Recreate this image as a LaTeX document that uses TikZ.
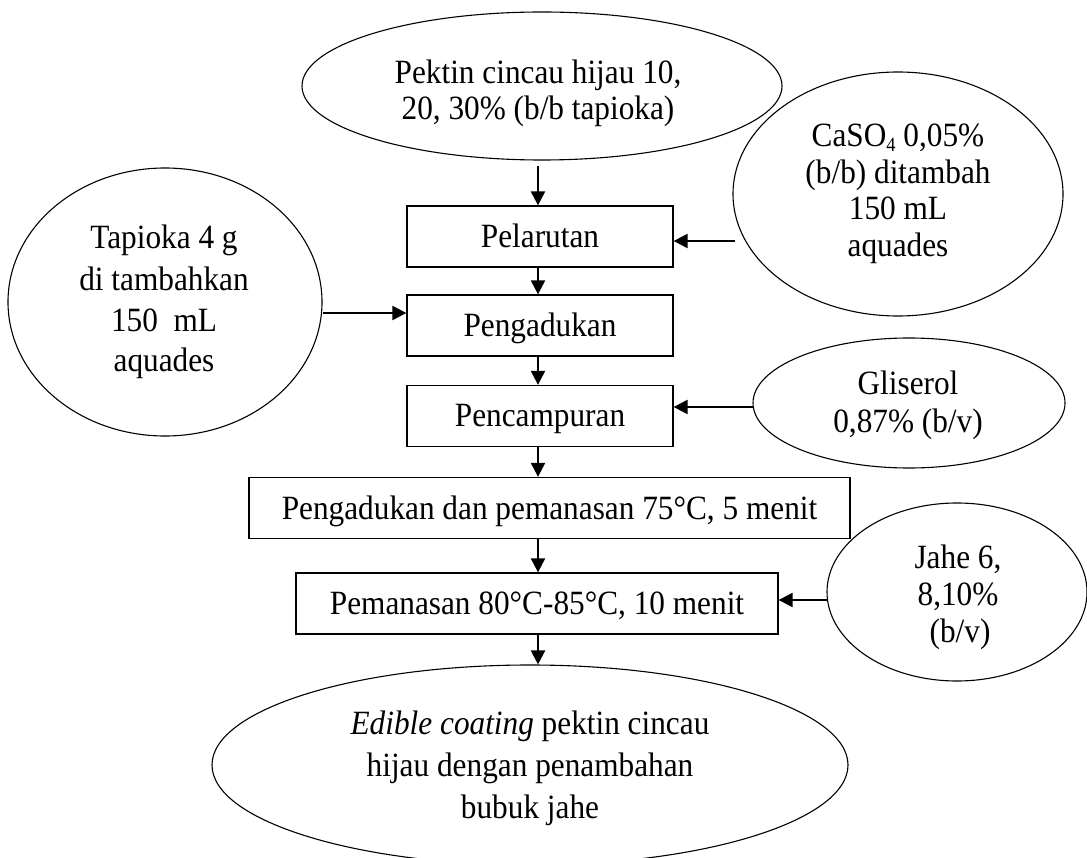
\documentclass[tikz,border=0pt]{standalone}
\usepackage{fontspec}
\setmainfont{Liberation Serif}[FakeStretch=0.92]
\usetikzlibrary{shapes.geometric,arrows.meta}
\newcommand{\lowfour}{\raisebox{-5pt}{\fontsize{20}{20}\selectfont 4}}
\begin{document}
\begin{tikzpicture}[x=1pt,y=-1pt,
  txt/.style={font=\fontsize{34}{38}\selectfont, inner sep=0pt, anchor=base},
  stepbox/.style={draw, line width=1.3pt, inner sep=0pt, minimum height=61pt,
    text height=23pt, text depth=1pt, font=\fontsize{34}{38}\selectfont},
  oval/.style={draw, ellipse, line width=1.1pt, inner sep=0pt},
  arr/.style={line width=2.2pt, -{Triangle[length=14pt,width=14pt]}}
]
\useasboundingbox (0,0) rectangle (1087,858);
\clip (0,0) rectangle (1087,858);

% process steps
\node[stepbox, minimum width=266pt] (pel)  at (540,236.5) {Pelarutan};
\node[stepbox, minimum width=266pt] (adu)  at (540,325.5) {Pengadukan};
\node[stepbox, minimum width=266pt] (camp) at (540,416)   {Pencampuran};
\node[stepbox, minimum width=601pt] (aduPanas) at (549.5,508) {Pengadukan dan pemanasan 75°C, 5 menit};
\node[stepbox, minimum width=482pt] (panas) at (537,603.5) {Pemanasan 80°C-85°C, 10 menit};

% ingredient ovals
\node[oval, minimum width=480pt, minimum height=148pt] (pektin) at (542,86) {};
\node[txt] (pektinA) at (538,84)  {Pektin cincau hijau 10,};
\node[txt] (pektinB) at (538,120) {20, 30\% (b/b tapioka)};

\node[oval, minimum width=330pt, minimum height=244pt] (cas) at (898,194) {};
\node[txt] (casA) at (898,147) {CaSO\lowfour\ 0,05\%};
\node[txt] (casB) at (898,184) {(b/b) ditambah};
\node[txt] (casC) at (898,220) {150 mL};
\node[txt] (casD) at (898,257) {aquades};

\node[oval, minimum width=314pt, minimum height=268pt] (tap) at (165,302) {};
\node[txt] (tapA) at (164,249) {Tapioka 4 g};
\node[txt] (tapB) at (164,291) {di tambahkan};
\node[txt] (tapC) at (164,332) {150\ \ mL};
\node[txt] (tapD) at (164,372) {aquades};

\node[oval, minimum width=312pt, minimum height=130pt] (gli) at (909,403) {};
\node[txt] (gliA) at (908,395) {Gliserol};
\node[txt] (gliB) at (908,432) {0,87\% (b/v)};

\node[oval, minimum width=260pt, minimum height=178pt] (jahe) at (957,592) {};
\node[txt] (jaheA) at (958,568) {Jahe 6,};
\node[txt] (jaheB) at (958,605) {8,10\%};
\node[txt] (jaheC) at (960,642) {(b/v)};

% product
\node[oval, minimum width=636pt, minimum height=200pt] (hasil) at (530,765) {};
\node[txt] (hasilA) at (530,734) {\textit{Edible coating} pektin cincau};
\node[txt] (hasilB) at (530,776) {hijau dengan penambahan};
\node[txt] (hasilC) at (530,818) {bubuk jahe};

% main flow
\draw[arr, shorten <=5pt] (pektin.south -| 538,0) -- (538,0 |- pel.north);
\draw[arr] (538,0 |- pel.south) -- (538,0 |- adu.north);
\draw[arr] (538,0 |- adu.south) -- (538,0 |- camp.north);
\draw[arr] (538,0 |- camp.south) -- (538,0 |- aduPanas.north);
\draw[arr] (538,0 |- aduPanas.south) -- (538,0 |- panas.north);
\draw[arr] (538,0 |- panas.south) -- (538,0 |- hasil.north);

% side inputs
\coordinate (casOut) at (735,241);
\coordinate (tapOut) at (323,313);
\coordinate (gliOut) at (753,407);
\coordinate (jaheOut) at (828,600);
\draw[arr] (casOut) -- (casOut -| pel.east);
\draw[arr] (tapOut) -- (tapOut -| adu.west);
\draw[arr] (gliOut) -- (gliOut -| camp.east);
\draw[arr] (jaheOut) -- (jaheOut -| panas.east);
\end{tikzpicture}
\end{document}
